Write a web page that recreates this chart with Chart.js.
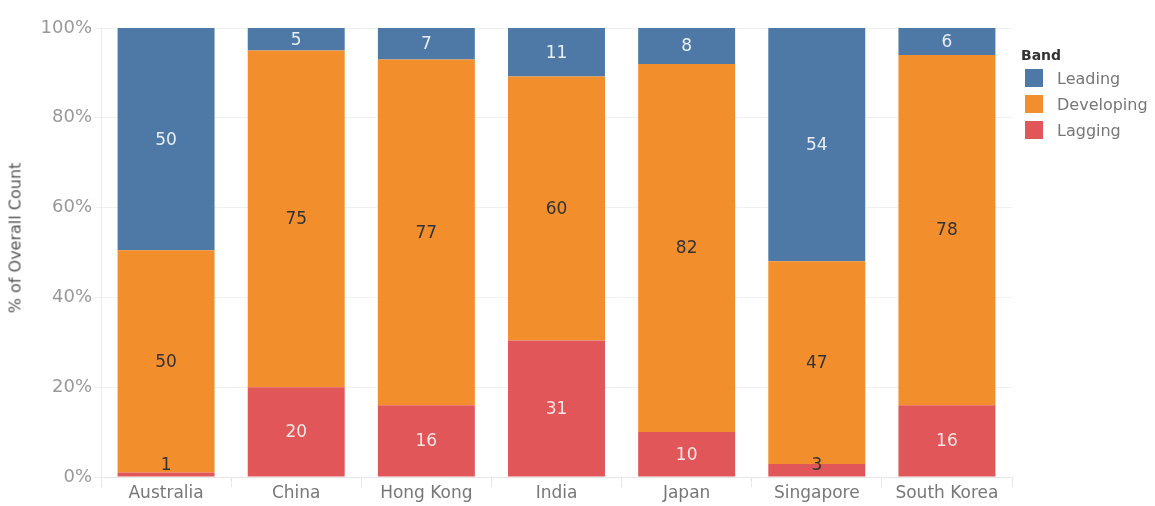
<!DOCTYPE html>
<html>
<head>
<meta charset="utf-8">
<script src="https://cdn.jsdelivr.net/npm/chart.js@4/dist/chart.umd.min.js"></script>
<style>
  html, body { margin: 0; padding: 0; background: #fff; }
  #wrap { position: relative; width: 1155px; height: 506px; font-family: "DejaVu Sans", sans-serif; }
  #ytitle { position: absolute; left: 15px; top: 238px; transform: translate(-50%, -50%) rotate(-90deg);
            white-space: nowrap; font-size: 16px; color: #555; }
  #legend { position: absolute; left: 1021px; top: 45px; }
  #legend .title { font-size: 14px; font-weight: bold; color: #333; height: 20px; line-height: 20px; }
  #legend .item { display: flex; align-items: center; height: 26px; font-size: 16px; color: #777; }
  #legend .sw { width: 18px; height: 18px; margin: 0 14px 0 4px; }
</style>
</head>
<body>
<div id="wrap">
  <canvas id="chart" width="1155" height="506"></canvas>
  <div id="ytitle">% of Overall Count</div>
  <div id="legend"></div>
</div>
<script>
// Conteos por país y banda
const paises = ['Australia', 'China', 'Hong Kong', 'India', 'Japan', 'Singapore', 'South Korea'];
const leading = [50, 5, 7, 11, 8, 54, 6];
const developing = [50, 75, 77, 60, 82, 47, 78];
const lagging = [1, 20, 16, 31, 10, 3, 16];
const yTicks = [0, 20, 40, 60, 80, 100];

const FUENTE = '"DejaVu Sans", sans-serif';

const bandas = [
    { label: 'Leading', data: leading, color: '#4e79a7', text: '#e8eef5' },
    { label: 'Developing', data: developing, color: '#f28e2b', text: '#333333' },
    { label: 'Lagging', data: lagging, color: '#e15759', text: '#f7e6e6' }
];

const totales = paises.map((_, i) => leading[i] + developing[i] + lagging[i]);
const pct = arr => arr.map((v, i) => v / totales[i] * 100);

// Etiquetas con el conteo dentro de cada segmento
const etiquetas = {
    id: 'etiquetas',
    afterDatasetsDraw(chart) {
        const ctx = chart.ctx;
        ctx.save();
        ctx.font = '17px ' + FUENTE;
        ctx.textAlign = 'center';
        ctx.textBaseline = 'middle';
        chart.data.datasets.forEach((ds, di) => {
            const meta = chart.getDatasetMeta(di);
            meta.data.forEach((bar, i) => {
                const h = bar.base - bar.y;
                let y = (bar.y + bar.base) / 2 + 1;
                let color = ds.textColor;
                // segmento muy bajo: texto oscuro apoyado sobre la base
                if (h < 20) {
                    y = Math.min(y, bar.base - 11);
                    color = '#333333';
                }
                ctx.fillStyle = color;
                ctx.fillText(ds.counts[i], bar.x, y);
            });
        });
        ctx.restore();
    }
};

const datasets = bandas.slice().reverse().map(b => ({
    label: b.label,
    data: pct(b.data),
    counts: b.data,
    textColor: b.text,
    backgroundColor: b.color,
    borderWidth: 0,
    barPercentage: 0.745,
    categoryPercentage: 1
}));

new Chart(document.getElementById('chart'), {
    type: 'bar',
    data: { labels: paises, datasets },
    plugins: [etiquetas],
    options: {
        responsive: false,
        animation: false,
        layout: { padding: { top: 28, right: 143, left: 0, bottom: 0 } },
        plugins: { legend: { display: false }, tooltip: { enabled: false } },
        scales: {
            x: {
                stacked: true,
                afterFit: s => { s.height = 29; },
                grid: { drawOnChartArea: false, color: '#e6e6e6', tickLength: 10, offset: true },
                border: { color: '#e6e6e6' },
                ticks: { color: '#777', font: { size: 17, family: FUENTE }, padding: -4 }
            },
            y: {
                stacked: true,
                min: 0,
                max: 100,
                afterFit: s => { s.width = 101; },
                afterBuildTicks: s => { s.ticks = yTicks.map(v => ({ value: v })); },
                grid: { color: '#f0f0f0', tickLength: 7 },
                border: { color: '#ececec' },
                ticks: {
                    color: '#999',
                    font: { size: 18, family: FUENTE },
                    padding: 2,
                    callback: v => v + '%'
                }
            }
        }
    }
});

document.getElementById('legend').innerHTML = '<div class="title">Band</div>' +
    bandas.map(b => `<div class="item"><span class="sw" style="background:${b.color}"></span>${b.label}</div>`).join('');
</script>
</body>
</html>
